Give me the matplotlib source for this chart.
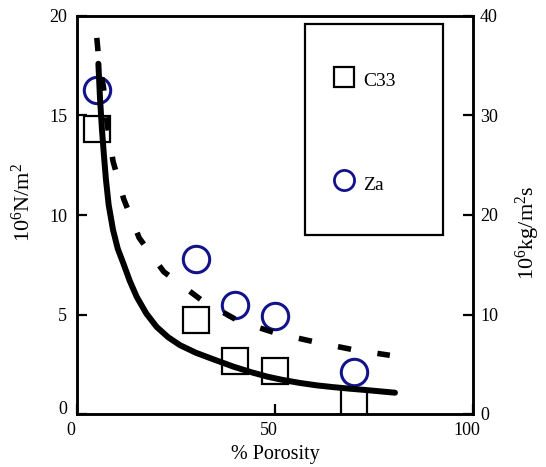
import matplotlib
matplotlib.use("Agg")
import matplotlib.pyplot as plt
import matplotlib.transforms as mtransforms
from matplotlib.patches import Rectangle

plt.rcParams['font.family'] = ['Liberation Serif', 'DejaVu Serif']
plt.rcParams['mathtext.fontset'] = 'custom'
plt.rcParams['mathtext.rm'] = 'Liberation Serif'
plt.rcParams['mathtext.it'] = 'Liberation Serif:italic'

# ---- data ----
porosity = [5, 30, 40, 50, 70]
c33 = [14.3, 4.7, 2.65, 2.17, 0.6]          # 10^6 N/m^2 (left axis)
za = [32.6, 15.6, 11.0, 9.8, 4.2]           # 10^6 kg/m^2s (right axis)

fit_c33_x = [5.4, 5.8, 6.3, 6.8, 7.3, 8.0, 9.1, 10.3, 11.7, 13.3, 15.1, 17.5,
             20.1, 23.0, 26.0, 30.0, 34.0, 39.5, 44.0, 48.0, 52.0, 56.3,
             60.5, 64.7, 69.0, 73.2, 77.0, 80.3]
fit_c33_y = [17.6, 15.9, 14.3, 13.0, 11.8, 10.5, 9.25, 8.3, 7.57, 6.7, 5.88,
             5.05, 4.38, 3.86, 3.46, 3.08, 2.78, 2.38, 2.1, 1.88, 1.71, 1.56,
             1.44, 1.35, 1.27, 1.2, 1.13, 1.07]

fit_za_x = [5.0, 5.5, 6.7, 7.6, 9.1, 11.8, 15.7, 21.9, 31.6, 41.0, 50.5, 60.5,
            70.0, 79.0]
fit_za_y = [18.9, 17.8, 16.4, 14.6, 12.7, 10.8, 8.85, 7.15, 5.7, 4.65, 4.05,
            3.6, 3.22, 2.95]

x_ticks = [0, 50, 100]
left_ticks = [0, 5, 10, 15, 20]
right_ticks = [0, 10, 20, 30, 40]

navy = '#12128a'

fig = plt.figure(figsize=(5.46, 4.67), dpi=100)
W, H = 546, 467
ax = fig.add_axes([77 / W, 1 - 414 / H, (473 - 77) / W, (414 - 16) / H])
ax2 = ax.twinx()
ax.set_zorder(ax2.get_zorder() + 1)
ax.patch.set_visible(False)

ax.set_xlim(0, 100)
ax.set_ylim(0, 20)
ax2.set_ylim(0, 40)

# curves
ax.plot(fit_c33_x, fit_c33_y, color='black', lw=4.3, solid_capstyle='round',
        solid_joinstyle='round', zorder=4)
ax.plot(fit_za_x, fit_za_y, color='black', lw=4.0, linestyle=(0, (2.4, 4.8)),
        dash_capstyle='butt', zorder=4)

# data markers
ax.plot(porosity, c33, linestyle='none', marker='s', ms=19, mfc='none',
        mec='black', mew=1.6, zorder=3)
ax2.plot(porosity, za, linestyle='none', marker='o', ms=19, mfc='none',
         mec=navy, mew=2.2, zorder=3)

# legend box drawn manually
ax.add_patch(Rectangle(((305 - 77) / 396, (414 - 235) / 398),
                       (443 - 305) / 396, (235 - 24) / 398,
                       transform=ax.transAxes, fill=False, lw=1.6,
                       edgecolor='black', zorder=5))
lx = (344 - 77) / 396
ax.plot([lx], [(414 - 77) / 398], transform=ax.transAxes, marker='s', ms=14.5,
        mfc='none', mec='black', mew=1.6, linestyle='none', zorder=5)
ax.plot([lx], [(414 - 180) / 398], transform=ax.transAxes, marker='o', ms=14.5,
        mfc='none', mec=navy, mew=2.0, linestyle='none', zorder=5)
tx = (363 - 77) / 396
ax.text(tx, (414 - 81) / 398, 'C33', transform=ax.transAxes, fontsize=14,
        va='center', ha='left', zorder=5)
ax.text(tx, (414 - 185) / 398, 'Za', transform=ax.transAxes, fontsize=14,
        va='center', ha='left', zorder=5)

# ticks and spines
for a in (ax, ax2):
    for s in a.spines.values():
        s.set_linewidth(1.8)
ax.set_xticks(x_ticks)
ax.set_yticks(left_ticks)
ax2.set_yticks(right_ticks)
ax.tick_params(axis='both', direction='in', length=7, width=1.6, labelsize=13)
ax.tick_params(axis='y', pad=7)
ax.tick_params(axis='x', pad=6)
ax2.tick_params(axis='y', direction='in', length=7, width=1.6, labelsize=13,
                pad=5)

offset = mtransforms.ScaledTranslation(-6 / 100, 0, fig.dpi_scale_trans)
for lab in ax.get_xticklabels():
    lab.set_transform(lab.get_transform() + offset)
ylabs = ax.get_yticklabels()
up = mtransforms.ScaledTranslation(0, 7 / 100, fig.dpi_scale_trans)
ylabs[0].set_transform(ylabs[0].get_transform() + up)

ax.set_xlabel('% Porosity', fontsize=14.5, labelpad=4)

fig.text(23 / W, 1 - 202 / H, r'10$^{6}$N/m$^{2}$', rotation=90, fontsize=16,
         ha='center', va='center')
fig.text(528 / W, 1 - 233 / H, r'10$^{6}$kg/m$^{2}$s', rotation=90,
         fontsize=16, ha='center', va='center')

fig.savefig('out.png', dpi=100)
